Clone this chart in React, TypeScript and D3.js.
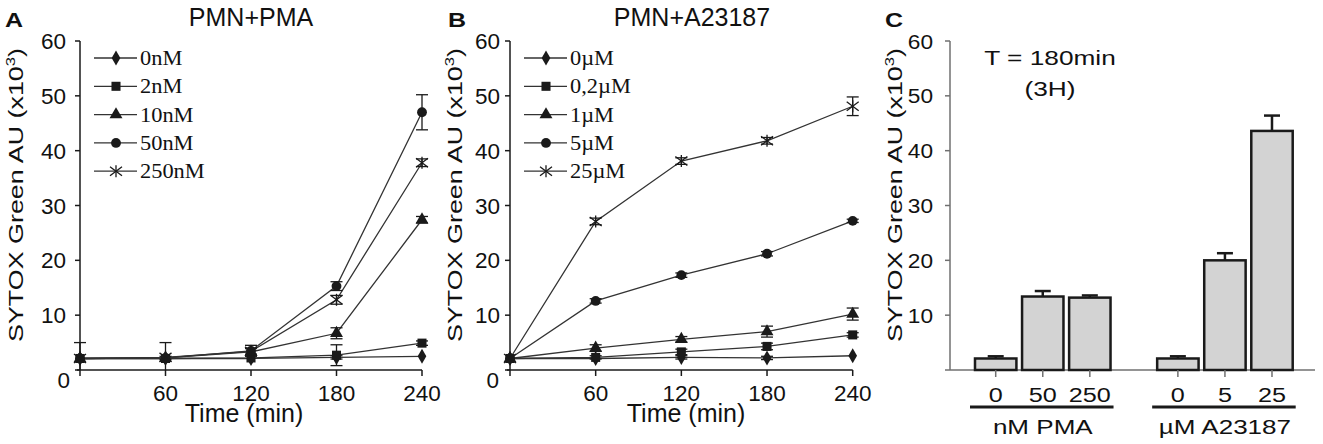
import * as d3 from 'd3';
import type { ReactNode } from 'react';

const times = [0, 60, 120, 180, 240];
const yTicks = [10, 20, 30, 40, 50, 60];

// panel A: PMN + PMA
const pmaLabels = ['0nM', '2nM', '10nM', '50nM', '250nM'];
const pma0 = [2.1, 2.1, 2.1, 2.3, 2.5];
const pma2 = [2.1, 2.1, 2.2, 2.7, 4.9];
const pma10 = [2.1, 2.2, 3.3, 6.7, 27.4];
const pma50 = [2.1, 2.2, 3.5, 15.3, 47.0];
const pma250 = [2.1, 2.3, 3.4, 12.8, 37.8];
const pma0Err = [0, 0, 0, 0.3, 0];
const pma2Err = [0, 0, 0, 1.9, 0.4];
const pma10Err = [0, 0, 0, 1.0, 0.6];
const pma50Err = [2.9, 0.3, 1.0, 0.8, 3.2];
const pma250Err = [0, 2.7, 0.5, 0.8, 0.7];

// panel B: PMN + A23187
const a23Labels = ['0\u00b5M', '0,2\u00b5M', '1\u00b5M', '5\u00b5M', '25\u00b5M'];
const a23_0 = [2.1, 2.1, 2.3, 2.2, 2.6];
const a23_02 = [2.1, 2.3, 3.3, 4.3, 6.4];
const a23_1 = [2.1, 4.0, 5.6, 7.0, 10.2];
const a23_5 = [2.1, 12.6, 17.3, 21.2, 27.2];
const a23_25 = [2.1, 27.1, 38.1, 41.8, 48.1];
const a23_0Err = [0, 0, 0.3, 0.3, 0];
const a23_02Err = [0, 0.3, 0.5, 0.6, 0.4];
const a23_1Err = [0, 0.6, 0.5, 1.0, 1.1];
const a23_5Err = [0, 0.4, 0.4, 0.4, 0.3];
const a23_25Err = [0, 0.6, 0.6, 0.6, 1.7];

// panel C: T = 180 min
const barGroups = ['nM PMA', '\u00b5M A23187'];
const pmaDoses = ['0', '50', '250'];
const a23Doses = ['0', '5', '25'];
const pmaBars = [2.1, 13.4, 13.2];
const a23Bars = [2.1, 20.0, 43.6];
const pmaBarErr = [0.4, 1.0, 0.4];
const a23BarErr = [0.4, 1.3, 2.8];

const shapes = ['diamond', 'square', 'triangle', 'circle', 'star'];

const SANS = "'Liberation Sans', Arial, sans-serif";
const SERIF = "'Liberation Serif', 'Times New Roman', serif";
const TOP = 41;
const BOTTOM = 370;
const INK = '#1a1a1a';

const yScale = d3.scaleLinear().domain([0, 60]).range([BOTTOM, TOP]);

// some of the original lettering is wider than Arial, sx stretches it along the text
function Txt({
  x,
  y,
  size = 22.5,
  sx = 1,
  anchor = 'start',
  rotate = 0,
  bold = false,
  children,
}: {
  x: number;
  y: number;
  size?: number;
  sx?: number;
  anchor?: string;
  rotate?: number;
  bold?: boolean;
  children: ReactNode;
}) {
  return (
    <text
      transform={`translate(${x},${y}) rotate(${rotate}) scale(${sx},1)`}
      textAnchor={anchor}
      fontFamily={SANS}
      fontSize={size}
      fontWeight={bold ? 'bold' : 'normal'}
      fill="#111"
    >
      {children}
    </text>
  );
}

function YLabel({ x }: { x: number }) {
  return (
    <Txt x={x} y={195} size={21} sx={1.28} anchor="middle" rotate={-90}>
      SYTOX Green AU (x10<tspan dy={-8} fontSize={13}>3</tspan>
      <tspan dy={8}>)</tspan>
    </Txt>
  );
}

function Marker({ shape, x, y }: { shape: string; x: number; y: number }) {
  if (shape === 'star') {
    const r = 6;
    return (
      <g stroke={INK} strokeWidth={1.3}>
        <line x1={x} y1={y - r} x2={x} y2={y + r} />
        <line x1={x - r} y1={y - r * 0.75} x2={x + r} y2={y + r * 0.75} />
        <line x1={x - r} y1={y + r * 0.75} x2={x + r} y2={y - r * 0.75} />
      </g>
    );
  }
  const sym =
    shape === 'diamond'
      ? d3.symbolDiamond
      : shape === 'square'
      ? d3.symbolSquare
      : shape === 'triangle'
      ? d3.symbolTriangle
      : d3.symbolCircle;
  const size = shape === 'diamond' ? 65 : shape === 'square' ? 82 : shape === 'triangle' ? 72 : 76;
  const d = d3.symbol().type(sym).size(size)() as string;
  return <path d={d} transform={`translate(${x},${y})`} fill={INK} />;
}

type LineProps = {
  left: number;
  right: number;
  letter: string;
  letterX: number;
  title: string;
  titleX: number;
  timeX: number;
  labels: string[];
  series: number[][];
  errors: number[][];
  tickLabelX: number;
  zeroX: number;
  yLabelX: number;
};

function LinePanel(p: LineProps) {
  const x = d3.scaleLinear().domain([0, 240]).range([p.left, p.right]);
  const line = d3
    .line<number>()
    .x((_, i) => x(times[i]))
    .y((d) => yScale(d));
  const cap = 6;
  return (
    <g>
      <Txt x={p.letterX} y={27} size={20} sx={1.25} bold>
        {p.letter}
      </Txt>
      <Txt x={p.titleX} y={26} size={25} anchor="middle">
        {p.title}
      </Txt>
      {/* axes */}
      <line x1={p.left} y1={TOP} x2={p.left} y2={BOTTOM + 6} stroke={INK} strokeWidth={1.5} />
      <line x1={p.left - 3} y1={BOTTOM} x2={p.right} y2={BOTTOM} stroke={INK} strokeWidth={1.5} />
      {[0, ...yTicks].map((t) => (
        <line key={t} x1={p.left - 5} x2={p.left} y1={yScale(t)} y2={yScale(t)} stroke={INK} strokeWidth={1.5} />
      ))}
      {yTicks.map((t) => (
        <Txt key={t} x={p.tickLabelX} y={yScale(t) + 8} anchor="end">
          {t}
        </Txt>
      ))}
      <Txt x={p.zeroX} y={388} anchor="end">
        0
      </Txt>
      {times.slice(1).map((t) => (
        <g key={t}>
          <line x1={x(t)} x2={x(t)} y1={BOTTOM} y2={BOTTOM + 6} stroke={INK} strokeWidth={1.5} />
          <Txt x={x(t)} y={401} anchor="middle">
            {t}
          </Txt>
        </g>
      ))}
      <Txt x={p.timeX} y={422} size={25} anchor="middle">
        Time (min)
      </Txt>
      <YLabel x={p.yLabelX} />
      {/* series */}
      {p.series.map((s, k) => (
        <path key={k} d={line(s) as string} fill="none" stroke="#333" strokeWidth={1.3} />
      ))}
      {p.errors.map((e, k) =>
        e.map((v, i) => {
          if (v <= 0) return null;
          const cx = x(times[i]);
          const hi = yScale(p.series[k][i] + v);
          const lowVal = p.series[k][i] - v;
          const lo = yScale(Math.max(0, lowVal));
          return (
            <g key={`${k}-${i}`} stroke={INK} strokeWidth={1.3}>
              <line x1={cx} x2={cx} y1={lo} y2={hi} />
              <line x1={cx - cap} x2={cx + cap} y1={hi} y2={hi} />
              {lowVal > 0 && <line x1={cx - cap} x2={cx + cap} y1={lo} y2={lo} />}
            </g>
          );
        })
      )}
      {p.series.map((s, k) =>
        s.map((v, i) => <Marker key={`${k}-${i}`} shape={shapes[k]} x={x(times[i])} y={yScale(v)} />)
      )}
      {/* legend */}
      {p.labels.map((lab, k) => {
        const ly = 58 + k * 28.3;
        return (
          <g key={lab}>
            <line x1={p.left + 14} x2={p.left + 57} y1={ly} y2={ly} stroke="#333" strokeWidth={1.3} />
            <Marker shape={shapes[k]} x={p.left + 36} y={ly} />
            <text
              transform={`translate(${p.left + 60},${ly + 7}) scale(1.12,1)`}
              fontFamily={SERIF}
              fontSize={20}
              fill="#111"
            >
              {lab}
            </text>
          </g>
        );
      })}
    </g>
  );
}

function BarPanel() {
  const left = 950;
  const right = 1315;
  const outer = d3.scaleBand<string>().domain(barGroups).range([975, 1292.7]).paddingInner(0.256);
  const inner = d3.scaleBand<number>().domain([0, 1, 2]).range([0, outer.bandwidth()]).paddingInner(0.12);
  const groups = [
    { name: barGroups[0], doses: pmaDoses, values: pmaBars, errs: pmaBarErr },
    { name: barGroups[1], doses: a23Doses, values: a23Bars, errs: a23BarErr },
  ];
  const axisCol = '#707070';
  return (
    <g>
      <Txt x={885} y={27} size={20} sx={1.25} bold>
        C
      </Txt>
      <Txt x={1050} y={65} size={21} sx={1.25} anchor="middle">
        T = 180min
      </Txt>
      <Txt x={1050} y={96} size={21} sx={1.25} anchor="middle">
        (3H)
      </Txt>
      <line x1={left} y1={TOP} x2={left} y2={BOTTOM} stroke={axisCol} strokeWidth={1.5} />
      <line x1={945} y1={BOTTOM} x2={right} y2={BOTTOM} stroke={axisCol} strokeWidth={1.5} />
      {yTicks.map((t) => (
        <g key={t}>
          <line x1={left - 5} x2={left} y1={yScale(t)} y2={yScale(t)} stroke={axisCol} strokeWidth={1.5} />
          <Txt x={933} y={yScale(t) + 7.5} size={21} sx={1.08} anchor="end">
            {t}
          </Txt>
        </g>
      ))}
      <YLabel x={902} />
      {groups.map((g) => {
        const gx = outer(g.name) as number;
        return (
          <g key={g.name}>
            {g.values.map((v, i) => {
              const bx = gx + (inner(i) as number);
              const bw = inner.bandwidth();
              const cx = bx + bw / 2;
              const top = yScale(v);
              const et = yScale(v + g.errs[i]);
              return (
                <g key={i}>
                  <line x1={cx} x2={cx} y1={top} y2={et} stroke={INK} strokeWidth={2.5} />
                  <line x1={cx - 8} x2={cx + 8} y1={et} y2={et} stroke={INK} strokeWidth={2.5} />
                  <rect x={bx} y={top} width={bw} height={BOTTOM - top} fill="#d3d3d3" stroke={INK} strokeWidth={2.5} />
                  <line x1={cx} x2={cx} y1={BOTTOM} y2={BOTTOM + 7} stroke={axisCol} strokeWidth={1.5} />
                  <Txt x={cx} y={402} size={21} sx={1.2} anchor="middle">
                    {g.doses[i]}
                  </Txt>
                </g>
              );
            })}
            <line x1={gx - 5} x2={gx + outer.bandwidth() + 3} y1={407} y2={407} stroke={INK} strokeWidth={3} />
            <Txt x={gx + outer.bandwidth() / 2} y={434} size={21} sx={1.24} anchor="middle">
              {g.name}
            </Txt>
          </g>
        );
      })}
    </g>
  );
}

export default function App() {
  return (
    <svg
      width={1323}
      height={444}
      style={{ position: 'absolute', left: 0, top: 0, background: '#fff' }}
    >
      <LinePanel
        left={80}
        right={422}
        letter="A"
        letterX={5}
        title="PMN+PMA"
        titleX={251}
        timeX={244}
        labels={pmaLabels}
        series={[pma0, pma2, pma10, pma50, pma250]}
        errors={[pma0Err, pma2Err, pma10Err, pma50Err, pma250Err]}
        tickLabelX={66}
        zeroX={70}
        yLabelX={23}
      />
      <LinePanel
        left={510}
        right={852.7}
        letter="B"
        letterX={448}
        title="PMN+A23187"
        titleX={692}
        timeX={686}
        labels={a23Labels}
        series={[a23_0, a23_02, a23_1, a23_5, a23_25]}
        errors={[a23_0Err, a23_02Err, a23_1Err, a23_5Err, a23_25Err]}
        tickLabelX={500}
        zeroX={499}
        yLabelX={462}
      />
      <BarPanel />
    </svg>
  );
}
